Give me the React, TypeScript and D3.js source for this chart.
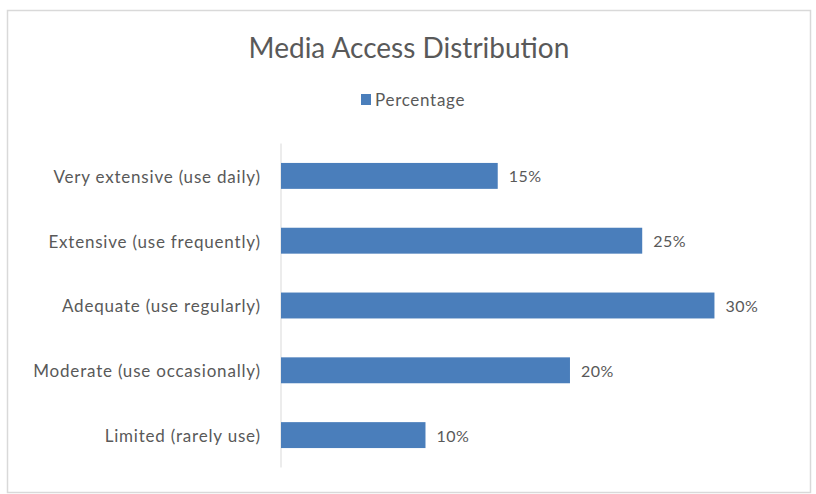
import React from "react";
import * as d3 from "d3";

const categories = [
  "Very extensive (use daily)",
  "Extensive (use frequently)",
  "Adequate (use regularly)",
  "Moderate (use occasionally)",
  "Limited (rarely use)",
];
const percentages = [15, 25, 30, 20, 10];
const title = "Media Access Distribution";
const seriesName = "Percentage";

const W = 816;
const H = 494;
const FONT = "Lato, 'Open Sans', sans-serif";
const TEXT = "#595959";
const BAR = "#4a7ebb";

export default function App() {
  const x = d3.scaleLinear().domain([0, 35]).range([281, 786.7]);
  const y = d3
    .scaleBand<string>()
    .domain(categories)
    .range([143.5, 467.5])
    .paddingInner(0.6)
    .paddingOuter(0.3);

  return (
    <svg
      width={W}
      height={H}
      style={{ position: "absolute", left: 0, top: 0, background: "#fff" }}
      fontFamily={FONT}
    >
      <rect x={7.5} y={10.5} width={803} height={482} fill="#fff" stroke="#d9d9d9" strokeWidth={1.5} />
      <text x={409} y={58} textAnchor="middle" fontSize={28} fill={TEXT}>
        {title}
      </text>
      <rect x={361} y={94} width={10} height={11} fill={BAR} />
      <text x={375} y={106} fontSize={17} letterSpacing={0.7} fill={TEXT}>
        {seriesName}
      </text>
      <line x1={281} x2={281} y1={143.5} y2={467.5} stroke="#d9d9d9" strokeWidth={1} />
      {categories.map((c, i) => {
        const yy = y(c)!;
        const bw = y.bandwidth();
        const v = percentages[i];
        return (
          <g key={c}>
            <rect x={x(0)} y={yy} width={x(v) - x(0)} height={bw} fill={BAR} />
            <text
              x={260.8}
              y={yy + bw / 2}
              dy="0.4em"
              textAnchor="end"
              fontSize={17}
              letterSpacing={0.8}
              fill={TEXT}
            >
              {c}
            </text>
            <text x={x(v) + 11} y={yy + bw / 2} dy="0.4em" fontSize={16} letterSpacing={0.5} fill={TEXT}>
              {v}%
            </text>
          </g>
        );
      })}
    </svg>
  );
}
